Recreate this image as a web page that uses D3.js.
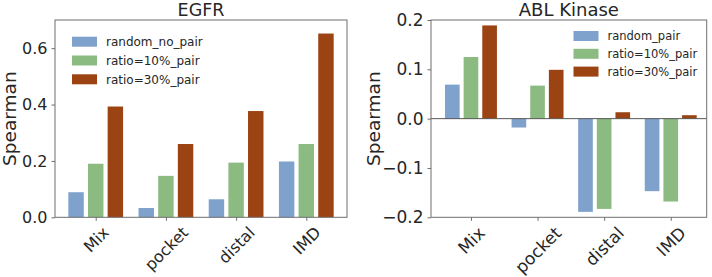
<!DOCTYPE html>
<html lang="en">
<head>
    <meta charset="UTF-8">
    <title>EGFR / ABL Kinase Spearman</title>
    <script src="https://d3js.org/d3.v7.min.js"></script>
    <style>
        body { margin: 0; background: #fff; }
        text { font-family: "DejaVu Sans", sans-serif; fill: #262626; }
    </style>
</head>
<body>
    <svg id="chart" width="712" height="277"></svg>

    <script>
        // categories and values
        const categories = ["Mix", "pocket", "distal", "IMD"];

        const egfrRandom = [0.089, 0.033, 0.064, 0.198];
        const egfrRatio10 = [0.190, 0.147, 0.194, 0.260];
        const egfrRatio30 = [0.393, 0.260, 0.377, 0.652];
        const egfrLegend = ["random_no_pair", "ratio=10%_pair", "ratio=30%_pair"];
        const egfrTicks = [0.0, 0.2, 0.4, 0.6];

        const ablRandom = [0.069, -0.018, -0.189, -0.147];
        const ablRatio10 = [0.125, 0.067, -0.183, -0.168];
        const ablRatio30 = [0.189, 0.099, 0.013, 0.007];
        const ablLegend = ["random_pair", "ratio=10%_pair", "ratio=30%_pair"];
        const ablTicks = [-0.2, -0.1, 0.0, 0.1, 0.2];

        const colors = ["#7fa2cd", "#8cbb82", "#9c4313"];

        const svg = d3.select("#chart");

        function drawPanel(p) {
            const g = svg.append("g");
            const x = d3.scaleLinear().domain(p.xDomain).range([p.left, p.right]);
            const y = d3.scaleLinear().domain(p.yDomain).range([p.bottom, p.top]);
            const pitch = 0.28, barW = 0.22;

            // bars
            p.series.forEach((vals, s) => {
                g.selectAll(null)
                    .data(vals)
                    .enter().append("rect")
                    .attr("x", (d, i) => x(i + (s - 1) * pitch - barW / 2))
                    .attr("width", x(barW) - x(0))
                    .attr("y", d => y(Math.max(0, d)))
                    .attr("height", d => Math.abs(y(d) - y(0)))
                    .attr("fill", colors[s]);
            });

            if (p.zeroLine) {
                g.append("line")
                    .attr("x1", p.left).attr("x2", p.right)
                    .attr("y1", y(0)).attr("y2", y(0))
                    .attr("stroke", "#555").attr("stroke-width", 1);
            }

            // frame
            g.append("rect")
                .attr("x", p.left).attr("y", p.top)
                .attr("width", p.right - p.left).attr("height", p.bottom - p.top)
                .attr("fill", "none").attr("stroke", "#6e6e6e").attr("stroke-width", 1);

            // y axis
            const yAxis = g.append("g")
                .attr("transform", `translate(${p.left},0)`)
                .call(d3.axisLeft(y).tickValues(p.ticks).tickSize(3.5).tickPadding(4)
                    .tickFormat(d => d3.format(".1f")(d).replace("-", "\u2212")));
            yAxis.select(".domain").remove();
            yAxis.selectAll("line").attr("stroke", "#6e6e6e");
            yAxis.selectAll("text").style("font-size", p.tickFont + "px").attr("fill", "#262626");

            // x axis with rotated labels
            const xAxis = g.append("g")
                .attr("transform", `translate(0,${p.bottom})`)
                .call(d3.axisBottom(x).tickValues(d3.range(categories.length)).tickSize(3.5)
                    .tickFormat(i => categories[i]));
            xAxis.select(".domain").remove();
            xAxis.selectAll("line").attr("stroke", "#6e6e6e");
            xAxis.selectAll("text")
                .style("font-size", p.tickFont + "px")
                .attr("fill", "#262626")
                .attr("text-anchor", "middle")
                .attr("dy", "0.35em")
                .attr("y", 0)
                .attr("transform", function () {
                    const w = this.getComputedTextLength();
                    const h = p.tickFont * 0.95;
                    const off = 7 + (w + h) / Math.SQRT2 / 2;
                    return `translate(0,${off}) rotate(-45)`;
                });

            // title
            g.append("text")
                .attr("x", (p.left + p.right) / 2)
                .attr("y", p.top - 4.5)
                .attr("text-anchor", "middle")
                .style("font-size", p.titleFont + "px")
                .text(p.title);

            // y label
            g.append("text")
                .attr("transform", `translate(${p.labelX},${(p.top + p.bottom) / 2}) rotate(-90)`)
                .attr("text-anchor", "middle")
                .attr("dy", "0.35em")
                .style("font-size", p.labelFont + "px")
                .text("Spearman");

            // legend
            const leg = g.selectAll(".legend-item")
                .data(p.legend)
                .enter().append("g")
                .attr("transform", (d, i) => `translate(${p.legX},${p.legY + i * p.legStep})`);
            leg.append("rect")
                .attr("x", 0).attr("y", -5)
                .attr("width", 25).attr("height", 10)
                .attr("fill", (d, i) => colors[i]);
            leg.append("text")
                .attr("x", 34).attr("dy", "0.35em")
                .style("font-size", p.legFont + "px")
                .text(d => d);
        }

        drawPanel({
            title: "EGFR",
            series: [egfrRandom, egfrRatio10, egfrRatio30],
            legend: egfrLegend,
            ticks: egfrTicks,
            xDomain: [-0.58, 3.58],
            yDomain: [0, 0.70],
            left: 55, right: 347, top: 20, bottom: 217.3,
            zeroLine: false,
            tickFont: 16, titleFont: 17.5, labelFont: 18.5, legFont: 12,
            labelX: 10,
            legX: 72, legY: 41.7, legStep: 18.8
        });

        drawPanel({
            title: "ABL Kinase",
            series: [ablRandom, ablRatio10, ablRatio30],
            legend: ablLegend,
            ticks: ablTicks,
            xDomain: [-0.6, 3.54],
            yDomain: [-0.2, 0.2],
            left: 431, right: 706.7, top: 20, bottom: 217.3,
            zeroLine: true,
            tickFont: 17, titleFont: 18, labelFont: 18.5, legFont: 11.5,
            labelX: 374,
            legX: 573.5, legY: 36, legStep: 17.8
        });
    </script>
</body>
</html>
